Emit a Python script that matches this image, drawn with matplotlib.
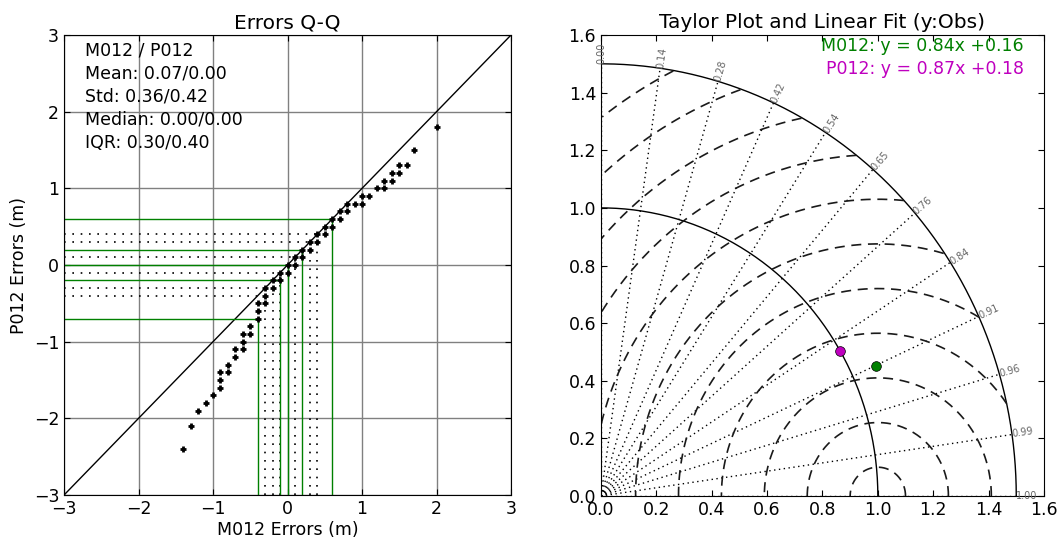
import numpy as np
import matplotlib
matplotlib.use('Agg')
import matplotlib.pyplot as plt

# Q-Q quantiles (m)
qq_m012 = [-1.4, -1.3, -1.2, -1.1, -1.0, -0.9, -0.9, -0.9, -0.8, -0.8, -0.7, -0.7,
           -0.6, -0.6, -0.6, -0.5, -0.5, -0.4, -0.4, -0.4, -0.3, -0.3, -0.3, -0.2,
           -0.2, -0.1, -0.1, 0.0, 0.0, 0.1, 0.1, 0.2, 0.2, 0.3, 0.3, 0.4, 0.4, 0.5,
           0.5, 0.6, 0.6, 0.7, 0.7, 0.8, 0.8, 0.9, 1.0, 1.0, 1.1, 1.2, 1.3, 1.3,
           1.4, 1.4, 1.5, 1.5, 1.6, 1.7, 2.0]
qq_p012 = [-2.4, -2.1, -1.9, -1.8, -1.7, -1.6, -1.5, -1.4, -1.4, -1.3, -1.2, -1.1,
           -1.1, -1.0, -0.9, -0.9, -0.8, -0.7, -0.6, -0.5, -0.5, -0.4, -0.3, -0.3,
           -0.2, -0.2, -0.1, -0.1, 0.0, 0.0, 0.1, 0.1, 0.2, 0.2, 0.3, 0.3, 0.4, 0.4,
           0.5, 0.5, 0.6, 0.6, 0.7, 0.7, 0.8, 0.8, 0.8, 0.9, 0.9, 1.0, 1.0, 1.1,
           1.1, 1.2, 1.2, 1.3, 1.3, 1.5, 1.8]

# percentile markers: green = 5/25/50/75/95, dotted = the others
pct_m012 = [-0.4, -0.1, 0.0, 0.2, 0.6]
pct_p012 = [-0.7, -0.2, 0.0, 0.2, 0.6]
dec_m012 = [-0.3, -0.2, -0.1, 0.1, 0.3, 0.4]
dec_p012 = [-0.4, -0.3, -0.1, 0.1, 0.3, 0.4]

stats_text = "M012 / P012\nMean: 0.07/0.00\nStd: 0.36/0.42\nMedian: 0.00/0.00\nIQR: 0.30/0.40"

# Taylor diagram (normalised std, correlation)
models = ['M012', 'P012']
std_norm = [1.09, 1.00]
corr = [0.91, 0.865]
colors = ['green', 'm']
fits = ['M012: y = 0.84x +0.16', 'P012: y = 0.87x +0.18']
corr_labels = ['1.00', '0.99', '0.96', '0.91', '0.84', '0.76', '0.65', '0.54',
               '0.42', '0.28', '0.14', '0.00']
rms_levels = [0.1, 0.255, 0.41, 0.565, 0.72, 0.875, 1.03, 1.185, 1.34, 1.495, 1.65, 1.805]
std_max = 1.5

plt.rcParams['font.size'] = 12.5
plt.rcParams['xtick.direction'] = 'in'
plt.rcParams['ytick.direction'] = 'in'
plt.rcParams['xtick.top'] = True
plt.rcParams['ytick.right'] = True
plt.rcParams['xtick.major.size'] = 4
plt.rcParams['ytick.major.size'] = 4

fig = plt.figure(figsize=(10.62, 5.37), dpi=100)
ax1 = fig.add_axes([0.0603, 0.0782, 0.4209, 0.8566])
ax2 = fig.add_axes([0.5659, 0.0763, 0.4171, 0.8585])

#----- Q-Q plot
ax1.grid(True, color='0.5', ls='-', lw=1)
ax1.set_axisbelow(True)
ax1.plot([-3, 3], [-3, 3], 'k-', lw=1)
for x, y in zip(dec_m012, dec_p012):
    ax1.plot([-3, x], [y, y], 'k', ls=(0, (1, 4)), lw=1.2)
    ax1.plot([x, x], [-3, y], 'k', ls=(0, (1, 4)), lw=1.2)
for x, y in zip(pct_m012, pct_p012):
    ax1.plot([-3, x], [y, y], color='green', lw=1)
    ax1.plot([x, x], [-3, y], color='green', lw=1)
ax1.plot(qq_m012, qq_p012, 'k+', ms=5, mew=2)
ax1.set_xlim(-3, 3)
ax1.set_ylim(-3, 3)
ax1.set_xticks(range(-3, 4))
ax1.set_yticks(range(-3, 4))
ax1.set_xlabel('M012 Errors (m)', labelpad=2)
ax1.set_ylabel('P012 Errors (m)')
ax1.set_title('Errors Q-Q', fontsize=14.5, pad=5)
ax1.text(0.047, 0.985, stats_text, transform=ax1.transAxes, ha='left', va='top',
         linespacing=1.35)

#----- Taylor plot
t = np.linspace(0, np.pi / 2, 200)
for r in [1.0, std_max]:
    ax2.plot(r * np.cos(t), r * np.sin(t), 'k-', lw=1)

angles = np.linspace(0, np.pi / 2, len(corr_labels))
for a, lab in zip(angles, corr_labels):
    ax2.plot([0, std_max * np.cos(a)], [0, std_max * np.sin(a)], 'k',
             ls=(0, (1, 2.5)), lw=1)
    ax2.text(std_max * np.cos(a), std_max * np.sin(a), lab, fontsize=7, color='0.4',
             rotation=np.degrees(a), rotation_mode='anchor', ha='left', va='center')

tt = np.linspace(0, np.pi, 600)
for r in rms_levels:
    x = 1 + r * np.cos(tt)
    y = r * np.sin(tt)
    out = (np.hypot(x, y) > std_max) | (x < 0)
    x[out] = np.nan
    y[out] = np.nan
    ax2.plot(x, y, color='0.1', ls=(0, (6, 4)), lw=1.2)

for s, c, col in zip(std_norm, corr, colors):
    ax2.plot(s * c, s * np.sin(np.arccos(c)), 'o', color=col, ms=7, mec='k', mew=0.5)

ax2.text(0.955, 0.995, fits[0], color='green', transform=ax2.transAxes, ha='right', va='top')
ax2.text(0.955, 0.945, fits[1], color='m', transform=ax2.transAxes, ha='right', va='top')
ax2.set_xlim(0, 1.6)
ax2.set_ylim(0, 1.6)
ax2.set_xticks(np.arange(0, 1.61, 0.2))
ax2.set_yticks(np.arange(0, 1.61, 0.2))
ax2.set_title('Taylor Plot and Linear Fit (y:Obs)', fontsize=14.5, pad=5)

fig.savefig('out.png', dpi=100)
